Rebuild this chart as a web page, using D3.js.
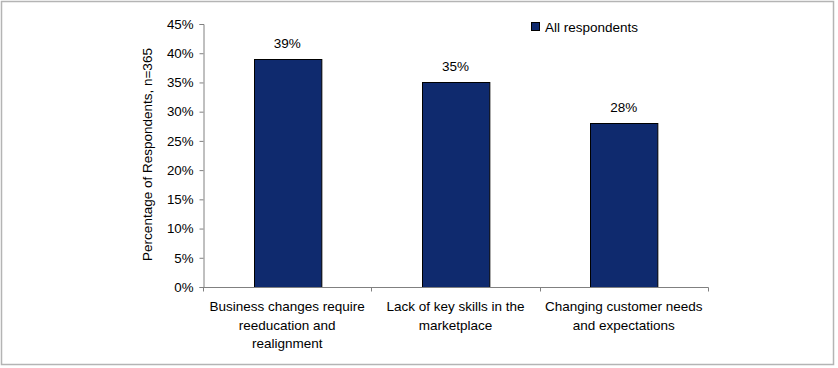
<!DOCTYPE html>
<html>
<head>
<meta charset="utf-8">
<script src="https://cdn.jsdelivr.net/npm/d3@7"></script>
<style>
  body { margin: 0; background: #fff; }
  svg text { font-family: "Liberation Sans", Arial, sans-serif; fill: #000; }
</style>
</head>
<body>
<div id="chart"></div>
<script>
// chart data
var categories = [
  ["Business changes require", "reeducation and", "realignment"],
  ["Lack of key skills in the", "marketplace"],
  ["Changing customer needs", "and expectations"]
];
var values = [39, 35, 28];
var seriesName = "All respondents";
var yTicks = [0, 5, 10, 15, 20, 25, 30, 35, 40, 45];

var width = 838, height = 368;
var plotLeft = 203, plotRight = 708, plotTop = 24, plotBottom = 287;
var barColor = "#0f2a6e";
var axisColor = "#808080";

var svg = d3.select("#chart").append("svg")
    .attr("width", width)
    .attr("height", height);

// outer frame
svg.append("rect")
  .attr("x", 1.5).attr("y", 1.5)
  .attr("width", 832).attr("height", 363)
  .attr("fill", "none")
  .attr("stroke", "#b4b4b4")
  .attr("stroke-width", 1.5);

var x = d3.scaleBand()
    .domain(d3.range(categories.length))
    .range([plotLeft, plotRight])
    .paddingInner(0.6)
    .paddingOuter(0.3);

var y = d3.scaleLinear()
    .domain([0, 45])
    .range([plotBottom, plotTop]);

// y axis
var yAxis = svg.append("g")
    .attr("transform", "translate(" + (plotLeft + 0.5) + ",0)")
    .call(d3.axisLeft(y).tickValues(yTicks).tickSize(4).tickPadding(6)
      .tickFormat(function(d) { return d + "%" }));
yAxis.selectAll("path, line").attr("stroke", axisColor);
yAxis.selectAll("text").attr("font-size", 13.3).attr("fill", "#000")
  .style("font-family", "Liberation Sans, Arial, sans-serif");

// bars
svg.selectAll(".bar")
  .data(values)
  .enter().append("rect")
    .attr("class", "bar")
    .attr("x", function(d, i) { return Math.round(x(i)) + 0.5 })
    .attr("y", function(d) { return Math.round(y(d)) + 0.5 })
    .attr("width", x.bandwidth())
    .attr("height", function(d) { return plotBottom - Math.round(y(d)) })
    .attr("fill", barColor)
    .attr("stroke", "#000")
    .attr("stroke-width", 1);

// value labels
svg.selectAll(".val")
  .data(values)
  .enter().append("text")
    .attr("class", "val")
    .attr("x", function(d, i) { return x(i) + x.bandwidth() / 2 })
    .attr("y", function(d) { return y(d) - 11 })
    .attr("text-anchor", "middle")
    .attr("font-size", 13.5)
    .text(function(d) { return d + "%" });

// x axis line with ticks between categories
var xg = svg.append("g");
xg.append("line")
  .attr("x1", plotLeft).attr("x2", plotRight + 0.5)
  .attr("y1", plotBottom + 0.5).attr("y2", plotBottom + 0.5)
  .attr("stroke", axisColor);
var bounds = d3.range(categories.length + 1).map(function(i) {
  return plotLeft + i * x.step();
});
xg.selectAll(".xt")
  .data(bounds)
  .enter().append("line")
    .attr("class", "xt")
    .attr("x1", function(d) { return Math.round(d) + 0.5 })
    .attr("x2", function(d) { return Math.round(d) + 0.5 })
    .attr("y1", plotBottom + 0.5).attr("y2", plotBottom + 4.5)
    .attr("stroke", axisColor);

// category labels
var cat = svg.selectAll(".cat")
  .data(categories)
  .enter().append("text")
    .attr("class", "cat")
    .attr("text-anchor", "middle")
    .attr("font-size", 13.5);
cat.selectAll("tspan")
  .data(function(d, i) { return d.map(function(t) { return { t: t, i: i } }) })
  .enter().append("tspan")
    .attr("x", function(d) { return x(d.i) + x.bandwidth() / 2 })
    .attr("y", function(d, j) { return 311 + j * 18.5 })
    .text(function(d) { return d.t });

// y title
svg.append("text")
  .attr("transform", "translate(152," + ((plotTop + plotBottom) / 2 - 1) + ") rotate(-90)")
  .attr("text-anchor", "middle")
  .attr("font-size", 13.5)
  .text("Percentage of Respondents, n=365");

// legend
var lg = svg.append("g").attr("transform", "translate(531,22)");
lg.append("rect")
  .attr("x", 0.5).attr("y", 0.5)
  .attr("width", 8).attr("height", 8)
  .attr("fill", barColor)
  .attr("stroke", "#000");
lg.append("text")
  .attr("x", 14).attr("y", 9.5)
  .attr("font-size", 13.5)
  .text(seriesName);
</script>
</body>
</html>
